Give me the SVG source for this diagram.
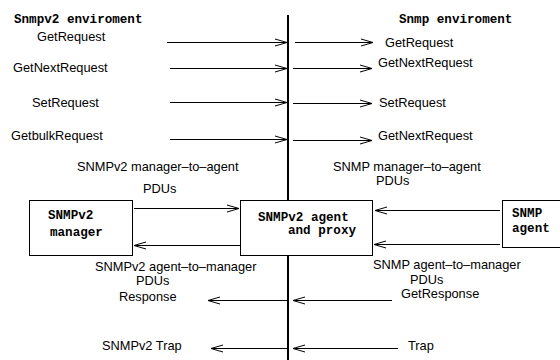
<svg xmlns="http://www.w3.org/2000/svg" width="560" height="360" viewBox="0 0 560 360">
  <style>
    .lbl { font-family: "Liberation Sans", Arial, sans-serif; font-size: 12.8px; fill: #000; }
    .mono { font-family: "Liberation Mono", "Courier New", monospace; font-size: 12.6px; font-weight: bold; fill: #000; }
    .box { fill: #fff; stroke: #000; stroke-width: 1; }
    .conn { stroke: #000; stroke-width: 1; fill: none; marker-end: url(#open); }
  </style>
  <defs>
    <marker id="open" markerUnits="userSpaceOnUse" markerWidth="16" markerHeight="10" refX="0" refY="0" viewBox="-13 -5 14 10" orient="auto" overflow="visible">
      <path d="M-12,-3.5 L0,0 L-12,3.5" fill="none" stroke="#000" stroke-width="1"/>
    </marker>
  </defs>
  <rect width="560" height="360" fill="#fff"/>

  <!-- boundary between the two environments -->
  <line x1="288" y1="15" x2="288" y2="360" stroke="#000" stroke-width="2"/>

  <!-- environment headings -->
  <text class="mono" x="14" y="23">Snmpv2 enviroment</text>
  <text class="mono" x="399" y="23">Snmp enviroment</text>

  <!-- request PDU names -->
  <text class="lbl" x="37" y="41">GetRequest</text>
  <text class="lbl" x="13" y="72">GetNextRequest</text>
  <text class="lbl" x="32" y="107">SetRequest</text>
  <text class="lbl" x="11" y="140">GetbulkRequest</text>
  <text class="lbl" x="385" y="47">GetRequest</text>
  <text class="lbl" x="378" y="67">GetNextRequest</text>
  <text class="lbl" x="379" y="107">SetRequest</text>
  <text class="lbl" x="378" y="140">GetNextRequest</text>

  <!-- flow descriptions -->
  <text class="lbl" x="77" y="171">SNMPv2 manager–to–agent</text>
  <text class="lbl" x="143" y="193">PDUs</text>
  <text class="lbl" x="333" y="171">SNMP manager–to–agent</text>
  <text class="lbl" x="376" y="185">PDUs</text>
  <text class="lbl" x="95" y="271">SNMPv2 agent–to–manager</text>
  <text class="lbl" x="136" y="284.5">PDUs</text>
  <text class="lbl" x="119" y="301">Response</text>
  <text class="lbl" x="373" y="269">SNMP agent–to–manager</text>
  <text class="lbl" x="410" y="284">PDUs</text>
  <text class="lbl" x="401" y="298">GetResponse</text>
  <text class="lbl" x="102" y="350">SNMPv2 Trap</text>
  <text class="lbl" x="408" y="350">Trap</text>

  <!-- nodes -->
  <g id="snmpv2-manager">
    <rect class="box" x="29.5" y="200.5" width="103" height="55"/>
    <text class="mono" x="48" y="219">SNMPv2</text>
    <text class="mono" x="50" y="236">manager</text>
  </g>
  <g id="agent-proxy">
    <rect class="box" x="240.5" y="200.5" width="132" height="55"/>
    <text class="mono" x="258" y="221">SNMPv2 agent</text>
    <text class="mono" x="288" y="234">and proxy</text>
  </g>
  <g id="snmp-agent">
    <rect class="box" x="502.5" y="200.5" width="70" height="47"/>
    <text class="mono" x="512" y="217">SNMP</text>
    <text class="mono" x="512" y="232">agent</text>
  </g>

  <!-- connectors -->
  <g id="connectors">
    <line class="conn" x1="167" y1="42.5" x2="287" y2="42.5"/>
    <line class="conn" x1="170" y1="68.5" x2="287" y2="68.5"/>
    <line class="conn" x1="170" y1="102.5" x2="287" y2="102.5"/>
    <line class="conn" x1="170" y1="139.5" x2="287" y2="139.5"/>
    <line class="conn" x1="295" y1="42.5" x2="373" y2="42.5"/>
    <line class="conn" x1="293" y1="68.5" x2="372" y2="68.5"/>
    <line class="conn" x1="293" y1="103.5" x2="372" y2="103.5"/>
    <line class="conn" x1="293" y1="140.5" x2="372" y2="140.5"/>

    <line class="conn" x1="134" y1="208.5" x2="239" y2="208.5"/>
    <line class="conn" x1="240" y1="245.5" x2="134" y2="245.5"/>
    <line class="conn" x1="500" y1="210.5" x2="375" y2="210.5"/>
    <line class="conn" x1="500" y1="244.5" x2="374" y2="244.5"/>

    <line class="conn" x1="287" y1="300.5" x2="208" y2="300.5"/>
    <line class="conn" x1="392" y1="300.5" x2="293" y2="300.5"/>
    <line class="conn" x1="287" y1="348.5" x2="211" y2="348.5"/>
    <line class="conn" x1="398" y1="348.5" x2="293" y2="348.5"/>
  </g>
</svg>
